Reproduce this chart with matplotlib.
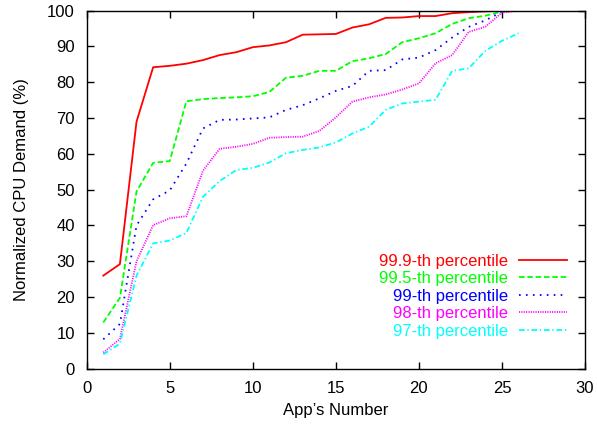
import matplotlib
matplotlib.use("Agg")
import matplotlib.pyplot as plt
import numpy as np

plt.rcParams['font.family'] = ['Liberation Sans', 'DejaVu Sans']
plt.rcParams['lines.scale_dashes'] = False

apps = list(range(1, 27))
p999 = [26.0, 29.2, 69.0, 84.2, 84.6, 85.2, 86.2, 87.6, 88.4, 89.8, 90.3, 91.2, 93.3,
        93.4, 93.5, 95.3, 96.2, 98.0, 98.1, 98.5, 98.5, 99.3, 99.6, 99.8, 100, 100]
p995 = [12.9, 19.8, 49.5, 57.5, 58.0, 74.7, 75.3, 75.6, 75.8, 76.1, 77.3, 81.3, 81.8,
        83.2, 83.2, 85.9, 86.7, 87.9, 91.2, 92.3, 93.7, 96.3, 97.9, 98.6, 99.8, 100]
p99 = [8.2, 12.5, 40.0, 47.3, 49.8, 57.3, 67.1, 69.5, 69.6, 69.9, 70.2, 72.3, 73.6,
       75.5, 77.6, 79.0, 83.2, 83.4, 86.4, 86.9, 89.0, 92.5, 95.5, 97.3, 99.7, 100]
p98 = [4.5, 8.3, 30.0, 40.1, 42.0, 42.6, 55.3, 61.4, 62.0, 62.8, 64.5, 64.7, 64.8,
       66.4, 70.2, 74.6, 75.8, 76.6, 78.0, 79.7, 85.3, 87.6, 94.1, 95.5, 99.5, 100]
p97 = [4.0, 7.0, 26.0, 35.0, 35.8, 37.9, 48.0, 52.4, 55.5, 56.1, 57.6, 60.2, 61.1,
       61.8, 63.2, 65.7, 67.6, 72.3, 74.1, 74.6, 75.1, 83.2, 83.9, 88.8, 91.6, 93.7]

labels = ["99.9-th percentile", "99.5-th percentile", "99-th percentile",
          "98-th percentile", "97-th percentile"]
series = [p999, p995, p99, p98, p97]
colors = ["#ff0000", "#00ff00", "#0000ff", "#ff00ff", "#00ffff"]
dashes = [None, (4, 2), (1.2, 3.8), (0.8, 0.9), (4, 2, 1, 2)]

fig = plt.figure(figsize=(5.97, 4.28), dpi=100)
ax = fig.add_axes([0.1452, 0.1386, 0.8348, 0.8364])

for ys, lab, c, d in zip(series, labels, colors, dashes):
    ln, = ax.plot(apps, ys, color=c, lw=1.3, label=lab)
    if d is not None:
        ln.set_dashes(d)

ax.set_xlim(0, 30)
ax.set_ylim(0, 100)
ax.set_xticks(range(0, 31, 5))
ax.set_yticks(range(0, 101, 10))
ax.tick_params(direction='in', length=5, width=1, top=True, right=True,
               labelsize=12)
ax.tick_params(axis='x', pad=9)
ax.tick_params(axis='y', pad=8.5)
for s in ax.spines.values():
    s.set_linewidth(1)
ax.set_xlabel("App\u2019s Number", fontsize=12, labelpad=5)
ax.set_ylabel("Normalized CPU Demand (%)", fontsize=12, labelpad=13)

leg = ax.legend(loc='lower right', bbox_to_anchor=(0.964, 0.084), frameon=False,
                markerfirst=False, labelcolor='linecolor', fontsize=12,
                handlelength=2.9, handletextpad=0.66, labelspacing=0.15,
                borderpad=0, borderaxespad=0)

fig.savefig("out.png", dpi=100)
